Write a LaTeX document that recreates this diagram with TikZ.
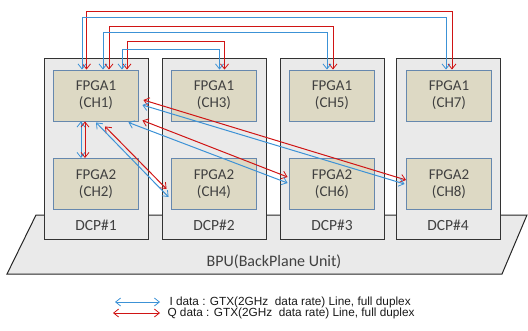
\documentclass[tikz,border=0pt]{standalone}
\usepackage{fontspec}
\setmainfont{Carlito}
\newfontfamily\legendfont{Liberation Sans}
\usetikzlibrary{calc,arrows.meta}

\definecolor{iblue}{HTML}{3C92D6}
\definecolor{qred}{HTML}{D01414}
\definecolor{dcpgray}{HTML}{EAEAEA}
\definecolor{fpgatan}{HTML}{DDD9C4}
\definecolor{fpgaedge}{HTML}{6688AE}
\definecolor{labelgray}{HTML}{404040}

\tikzset{
	dcpbox/.style={draw=black!80, fill=dcpgray, line width=1pt, minimum width=104pt, minimum height=181pt, inner sep=0pt},
	fpgabox/.style={draw=fpgaedge, fill=fpgatan, line width=0.9pt, minimum width=85pt, minimum height=51pt, inner sep=0pt, align=center, text=labelgray, font=\fontsize{15}{17}\selectfont},
	dcplabel/.style={text=labelgray, font=\fontsize{15.5}{18}\selectfont},
	barbs/.style={{Straight Barb[length=5pt,width=8pt,line width=0.8pt]}-{Straight Barb[length=5pt,width=8pt,line width=0.8pt]}},
	iline/.style={draw=iblue, line width=1pt, barbs},
	qline/.style={draw=qred, line width=1pt, barbs},
	legendtext/.style={anchor=west, text=black!90, font=\legendfont\fontsize{11.8}{14}\selectfont}
}

\begin{document}
\begin{tikzpicture}[x=1pt, y=-1pt]
			%%%%% START %%%%%
			\useasboundingbox (0,0) rectangle (528,330);
			
			% backplane
			\draw[fill=dcpgray, draw=black!85, line width=1pt] (36,215) -- (527,215) -- (502,274) -- (7,274) -- cycle;
			\node[dcplabel, font=\fontsize{16}{19}\selectfont] (bpu) at (274,262) {BPU(BackPlane Unit)};
			
			% DCP boards
			\node[dcpbox] (dcp1) at (96,148.5) {};
			\node[dcpbox] (dcp2) at (214,148.5) {};
			\node[dcpbox] (dcp3) at (332,148.5) {};
			\node[dcpbox] (dcp4) at (448,148.5) {};
			
			\node[dcplabel] (dcp1name) at (96,225) {DCP\#1};
			\node[dcplabel] (dcp2name) at (214,225) {DCP\#2};
			\node[dcplabel] (dcp3name) at (332,225) {DCP\#3};
			\node[dcplabel] (dcp4name) at (448,225) {DCP\#4};
			
			% FPGAs
			\node[fpgabox] (ch1) at (96,95.5) {FPGA1\\(CH1)};
			\node[fpgabox] (ch2) at (96,184) {FPGA2\\(CH2)};
			\node[fpgabox] (ch3) at (214,95.5) {FPGA1\\(CH3)};
			\node[fpgabox] (ch4) at (214,184) {FPGA2\\(CH4)};
			\node[fpgabox] (ch5) at (332,95.5) {FPGA1\\(CH5)};
			\node[fpgabox] (ch6) at (332,184) {FPGA2\\(CH6)};
			\node[fpgabox] (ch7) at (449,95.5) {FPGA1\\(CH7)};
			\node[fpgabox] (ch8) at (449,184) {FPGA2\\(CH8)};
			
			% CH1 <-> CH2
			\draw[iline] ($(ch1.south)+(-15,0)$) -- ($(ch2.north)+(-15,0)$);
			\draw[qline] ($(ch1.south)+(-11,0)$) -- ($(ch2.north)+(-11,0)$);
			
			% over the top to the FPGA1 of each board
			\draw[qline] ($(ch1.north)+(-9.5,0)$) -- ++(0,-58.3) -| ($(ch7.north)+(3,0)$);
			\draw[iline] ($(ch1.north)+(-14,0)$) -- ++(0,-51.7) -| ($(ch7.north)+(-3,0)$);
			\draw[qline] ($(ch1.north)+(13,0)$) -- ++(0,-43.3) -| ($(ch5.north)+(1,0)$);
			\draw[iline] ($(ch1.north)+(7,0)$) -- ++(0,-36.7) -| ($(ch5.north)+(-5,0)$);
			\draw[qline] ($(ch1.north)+(31,0)$) -- ++(0,-27.7) -| ($(ch3.north)+(10.5,0)$);
			\draw[iline] ($(ch1.north)+(26,0)$) -- ++(0,-20) -| ($(ch3.north)+(5.5,0)$);
			
			% across to the FPGA2 of each board
			\draw[qline] ($(ch1.east)+(4.5,4.5)$) -- ($(ch8.west)+(0,-4)$);
			\draw[iline] ($(ch1.east)+(3.5,9.5)$) -- ($(ch8.west)+(-1.5,0)$);
			\draw[qline] ($(ch1.south east)+(3.5,-1)$) -- ($(ch6.west)+(-1.5,-7)$);
			\draw[iline] ($(ch1.south east)+(-10.5,1)$) -- ($(ch6.west)+(-1.5,-1)$);
			\draw[qline] ($(ch1.south)+(9,5)$) -- ($(ch4.west)+(-4.5,5)$);
			\draw[iline] ($(ch1.south)+(0,1)$) -- ($(ch4.west)+(-2.5,13)$);
			
			% legend
			\coordinate (ilegA) at (115,302);
			\coordinate (ilegB) at (160,302);
			\coordinate (qlegA) at (113,313);
			\coordinate (qlegB) at (160,313);
			\draw[iline] (ilegA) -- (ilegB);
			\draw[qline] (qlegA) -- (qlegB);
			\node[legendtext] (itext) at (166,302) {I data : GTX(2GHz\ \ data rate) Line, full duplex};
			\node[legendtext] (qtext) at (164,313) {Q data : GTX(2GHz\ \ data rate) Line, full duplex};
			%%%%% END %%%%%
\end{tikzpicture}
\end{document}
